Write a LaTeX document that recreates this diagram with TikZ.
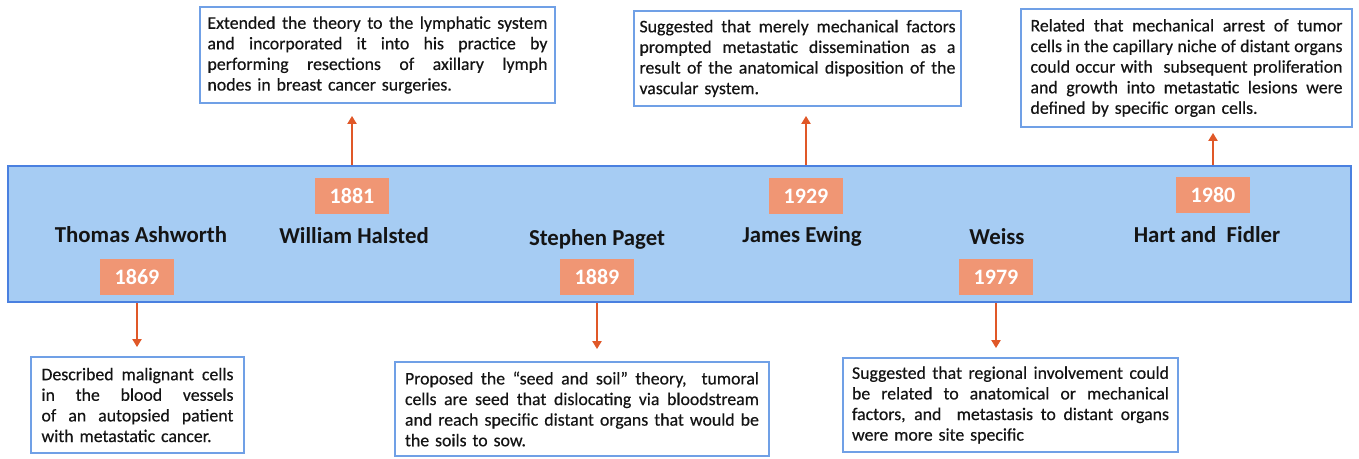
\documentclass[tikz,border=0pt]{standalone}
\usepackage{fontspec}
\setmainfont{Carlito}
\newfontfamily\descfont{Carlito}[FakeBold=0.4]
\usetikzlibrary{arrows.meta}
\definecolor{bandfill}{RGB}{166,204,243}
\definecolor{bandline}{RGB}{74,128,224}
\definecolor{yearfill}{RGB}{240,150,116}
\definecolor{arrowc}{RGB}{224,88,40}
\definecolor{boxline}{RGB}{112,160,230}
\definecolor{txt}{RGB}{20,20,20}
\newlength{\jwd}
\newcommand{\jl}[1]{\noindent\hbox to \jwd{\spaceskip=0.226em plus 1fil\relax\xspaceskip=0.226em plus 1fil\relax #1}\par}
\begin{document}
\begin{tikzpicture}[x=1pt,y=-1pt,
  bandbox/.style={draw=bandline,line width=2pt,fill=bandfill,minimum width=1343pt,minimum height=136pt,inner sep=0pt},
  yearbox/.style={fill=yearfill,text=white,font=\fontsize{22}{24}\selectfont\bfseries,minimum width=74pt,minimum height=36pt,inner sep=0pt},
  person/.style={font=\fontsize{22.8}{26}\selectfont\bfseries,text=txt,anchor=base,inner sep=0pt},
  desc/.style={draw=boxline,line width=1.8pt,fill=white,text=txt,font=\descfont\fontsize{17.8}{20.6}\selectfont,align=left,inner ysep=0pt},
  conn/.style={draw=arrowc,line width=2.2pt,-{Triangle[length=8pt,width=9pt]}}]
\useasboundingbox (0,0) rectangle (1359,458);

% band
\node[bandbox] (band) at (679.5,234) {};

% years
\node[yearbox] (y1869) at (137,277) {1869};
\node[yearbox] (y1881) at (352,196) {1881};
\node[yearbox] (y1889) at (597,277) {1889};
\node[yearbox] (y1929) at (806,196) {1929};
\node[yearbox] (y1979) at (996,277) {1979};
\node[yearbox] (y1980) at (1213,195) {1980};

% names
\node[person] (nash) at (141,242) {Thomas Ashworth};
\node[person] (nhal) at (354,243) {William Halsted};
\node[person] (npag) at (597,245) {Stephen Paget};
\node[person] (newi) at (802,242) {James Ewing};
\node[person] (nwei) at (997,244) {Weiss};
\node[person] (nhar) at (1207,242) {Hart and\ \ Fidler};

% description boxes
\node[desc,text width=340pt,inner xsep=7.5pt,minimum height=96pt] (dhal) at (377.5,55) {%
\setlength{\jwd}{340pt}%
\jl{Extended the theory to the lymphatic system}
\jl{and incorporated it into his practice by}
\jl{performing resections of axillary lymph}
\noindent nodes in breast cancer surgeries.};

\node[desc,text width=316pt,inner xsep=5.5pt,minimum height=95pt] (dewi) at (797.5,58.5) {%
\setlength{\jwd}{316pt}%
\jl{Suggested that merely mechanical factors}
\jl{prompted metastatic dissemination as a}
\jl{result of the anatomical disposition of the}
\noindent vascular system.};

\node[desc,text width=312pt,inner xsep=9.5pt,minimum height=118pt] (dhar) at (1186.5,68) {%
\setlength{\jwd}{312pt}%
\jl{Related that mechanical arrest of tumor}
\jl{cells in the capillary niche of distant organs}
\jl{could occur with\ \ subsequent proliferation}
\jl{and growth into metastatic lesions were}
\noindent defined by specific organ cells.};

\node[desc,text width=192pt,inner xsep=10.5pt,minimum height=96pt] (dash) at (137.5,405) {%
\setlength{\jwd}{192pt}%
\jl{Described malignant cells}
\jl{in the blood vessels}
\jl{of an autopsied patient}
\noindent with metastatic cancer.};

\node[desc,text width=354pt,inner xsep=10pt,minimum height=94pt] (dpag) at (582,409) {%
\setlength{\jwd}{354pt}%
\jl{Proposed the “seed and soil” theory,\ \ tumoral}
\jl{cells are seed that dislocating via bloodstream}
\jl{and reach specific distant organs that would be}
\noindent the soils to sow.};

\node[desc,text width=317pt,inner xsep=9pt,minimum height=94pt] (dwei) at (1010.5,405) {%
\setlength{\jwd}{317pt}%
\jl{Suggested that regional involvement could}
\jl{be related to anatomical or mechanical}
\jl{factors, and\ \ metastasis to distant organs}
\noindent were more site specific};

% connectors
\draw[conn,shorten >=12pt] (y1881 |- band.north) -- (y1881 |- dhal.south);
\draw[conn,shorten >=9pt] (y1929 |- band.north) -- (y1929 |- dewi.south);
\draw[conn,shorten >=5pt] (y1980 |- band.north) -- (y1980 |- dhar.south);
\draw[conn,shorten >=9pt] (y1869 |- band.south) -- (y1869 |- dash.north);
\draw[conn,shorten >=12pt] (y1889 |- band.south) -- (y1889 |- dpag.north);
\draw[conn,shorten >=9pt] (y1979 |- band.south) -- (y1979 |- dwei.north);
\end{tikzpicture}
\end{document}
